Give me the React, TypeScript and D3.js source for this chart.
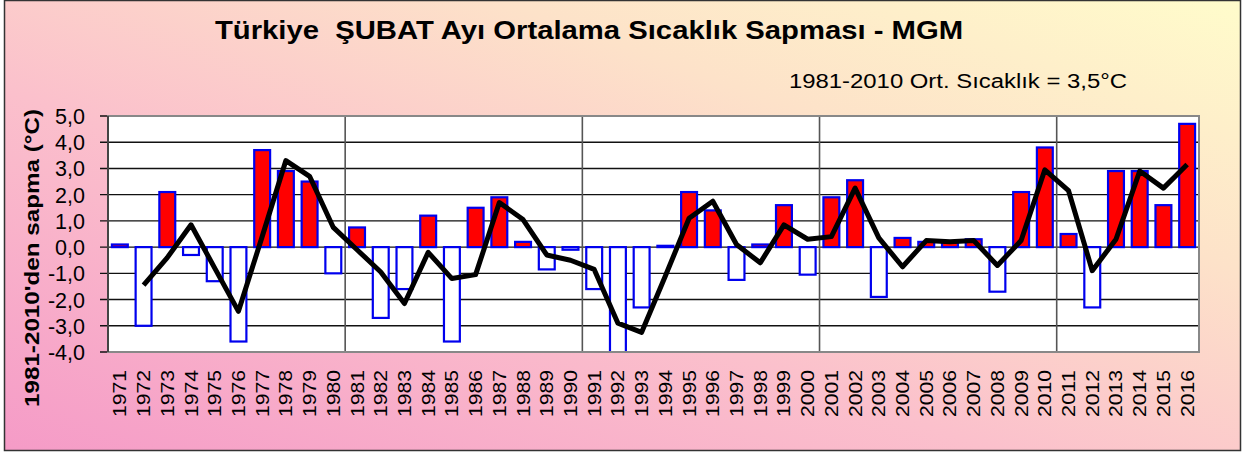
import React, { useEffect, useRef } from 'react';
import * as d3 from 'd3';

const years = d3.range(1971, 2017).map(String);

// Subat ayi sicaklik sapmasi (°C), 1971-2016
const anomalies = [
  0.1, -3.0, 2.1, -0.3, -1.3, -3.6, 3.7, 2.9, 2.5, -1.0,
  0.75, -2.7, -1.6, 1.2, -3.6, 1.5, 1.9, 0.2, -0.85, -0.1,
  -1.6, -4.2, -2.3, 0.05, 2.1, 1.4, -1.25, 0.1, 1.6, -1.05,
  1.9, 2.55, -1.9, 0.35, 0.2, 0.2, 0.3, -1.7, 2.1, 3.8,
  0.5, -2.3, 2.9, 2.9, 1.6, 4.7,
];

// black line, 1972-2016
const lineYears = d3.range(1972, 2017).map(String);
const lineValues = [
  -1.45, -0.4, 0.85, -0.8, -2.45, 0.4, 3.3, 2.7, 0.75,
  -0.1, -0.95, -2.15, -0.2, -1.2, -1.05, 1.7, 1.05, -0.3, -0.5,
  -0.85, -2.9, -3.25, -1.1, 1.1, 1.75, 0.1, -0.6, 0.85, 0.3,
  0.4, 2.25, 0.35, -0.75, 0.25, 0.2, 0.25, -0.7, 0.25, 2.95,
  2.15, -0.9, 0.3, 2.9, 2.25, 3.15,
];

const yTicks = [5, 4, 3, 2, 1, 0, -1, -2, -3, -4];
const decadeBreaks = ['1981', '1991', '2001', '2011'];

const title = 'Türkiye  ŞUBAT Ayı Ortalama Sıcaklık Sapması - MGM';
const subtitle = '1981-2010 Ort. Sıcaklık = 3,5°C';
const yLabel = "1981-2010'den sapma (°C)";

const W = 1250;
const H = 454;
const FONT = 'Liberation Sans, Arial, sans-serif';

const App = () => {
  const ref = useRef<SVGSVGElement>(null);

  useEffect(() => {
    const svg = d3.select(ref.current);
    svg.selectAll('*').remove();

    const plot = { left: 108, right: 1199, top: 116, bottom: 352 };

    const x = d3.scaleBand().domain(years).range([plot.left, plot.right]).paddingInner(0.33).paddingOuter(0.165);
    const xPos = d3.scaleBand().domain(years).range([plot.left, plot.right]);
    const y = d3.scaleLinear().domain([-4, 5]).range([plot.bottom, plot.top]);

    const defs = svg.append('defs');
    const grad = defs.append('linearGradient')
      .attr('id', 'bg')
      .attr('x1', 0).attr('y1', 1).attr('x2', 1).attr('y2', 0);
    grad.append('stop').attr('offset', 0).attr('stop-color', '#f59bc7');
    grad.append('stop').attr('offset', 0.4).attr('stop-color', '#fbc0cc');
    grad.append('stop').attr('offset', 0.7).attr('stop-color', '#fde2c9');
    grad.append('stop').attr('offset', 1).attr('stop-color', '#fffccb');

    defs.append('clipPath').attr('id', 'plotclip')
      .append('rect')
      .attr('x', plot.left).attr('y', plot.top)
      .attr('width', plot.right - plot.left).attr('height', plot.bottom - plot.top);

    svg.append('rect')
      .attr('x', 4.5).attr('y', 0.5)
      .attr('width', 1236).attr('height', 450)
      .attr('fill', 'url(#bg)')
      .attr('stroke', '#333')
      .attr('stroke-width', 1.5);

    svg.append('rect')
      .attr('x', plot.left).attr('y', plot.top)
      .attr('width', plot.right - plot.left).attr('height', plot.bottom - plot.top)
      .attr('fill', '#fff');

    // horizontal grid
    svg.append('g')
      .selectAll('line')
      .data(yTicks)
      .join('line')
      .attr('x1', plot.left - 8).attr('x2', plot.right)
      .attr('y1', (d) => y(d)).attr('y2', (d) => y(d))
      .attr('stroke', '#111')
      .attr('stroke-width', 1.4);

    // vertical decade lines
    svg.append('g')
      .selectAll('line')
      .data(decadeBreaks)
      .join('line')
      .attr('x1', (d) => xPos(d)).attr('x2', (d) => xPos(d))
      .attr('y1', plot.top).attr('y2', plot.bottom)
      .attr('stroke', '#555')
      .attr('stroke-width', 1.6);

    // bars
    svg.append('g')
      .attr('clip-path', 'url(#plotclip)')
      .selectAll('rect')
      .data(anomalies)
      .join('rect')
      .attr('x', (_, i) => x(years[i]))
      .attr('width', x.bandwidth())
      .attr('y', (d) => y(Math.max(0, d)))
      .attr('height', (d) => Math.abs(y(d) - y(0)))
      .attr('fill', (d) => (d >= 0 ? '#ff0000' : '#ffffff'))
      .attr('stroke', '#0000ee')
      .attr('stroke-width', 2.2);

    // plot frame
    svg.append('rect')
      .attr('x', plot.left).attr('y', plot.top)
      .attr('width', plot.right - plot.left).attr('height', plot.bottom - plot.top)
      .attr('fill', 'none')
      .attr('stroke', '#888')
      .attr('stroke-width', 2);
    svg.append('line')
      .attr('x1', plot.left).attr('x2', plot.left)
      .attr('y1', plot.top).attr('y2', plot.bottom)
      .attr('stroke', '#444')
      .attr('stroke-width', 2);

    // line
    const line = d3.line<number>()
      .x((_, i) => xPos(lineYears[i])! + xPos.bandwidth() / 2)
      .y((d) => y(d));
    svg.append('path')
      .datum(lineValues)
      .attr('d', line)
      .attr('fill', 'none')
      .attr('stroke', '#000')
      .attr('stroke-width', 5)
      .attr('stroke-linejoin', 'round');

    // y tick labels
    svg.append('g')
      .selectAll('text')
      .data(yTicks)
      .join('text')
      .attr('x', 85)
      .attr('y', (d) => y(d) + 8)
      .attr('text-anchor', 'end')
      .style('font-family', FONT)
      .style('font-size', '21.5px')
      .text((d) => d3.format('.1f')(d).replace('.', ',').replace('−', '-'));

    // x tick labels
    svg.append('g')
      .selectAll('text')
      .data(years)
      .join('text')
      .attr('transform', (d) => `translate(${xPos(d)! + xPos.bandwidth() / 2 + 6.5}, 370) rotate(-90)`)
      .attr('text-anchor', 'end')
      .attr('textLength', 47)
      .attr('lengthAdjust', 'spacingAndGlyphs')
      .style('font-family', FONT)
      .style('font-size', '18.5px')
      .text((d) => d);

    // y label
    svg.append('text')
      .attr('transform', 'translate(39, 258) rotate(-90)')
      .attr('text-anchor', 'middle')
      .attr('textLength', 298)
      .attr('lengthAdjust', 'spacingAndGlyphs')
      .style('font-family', FONT)
      .style('font-size', '21px')
      .style('font-weight', 'bold')
      .text(yLabel);

    svg.append('text')
      .attr('x', 215).attr('y', 39)
      .attr('xml:space', 'preserve')
      .attr('textLength', 748)
      .attr('lengthAdjust', 'spacingAndGlyphs')
      .style('white-space', 'pre')
      .style('font-family', FONT)
      .style('font-size', '25px')
      .style('font-weight', 'bold')
      .text(title);

    svg.append('text')
      .attr('x', 789).attr('y', 88)
      .attr('textLength', 338)
      .attr('lengthAdjust', 'spacingAndGlyphs')
      .style('font-family', FONT)
      .style('font-size', '19.5px')
      .text(subtitle);
  }, []);

  return (
    <svg
      ref={ref}
      width={W}
      height={H}
      style={{ position: 'absolute', left: 0, top: 0 }}
    />
  );
};

export default App;
